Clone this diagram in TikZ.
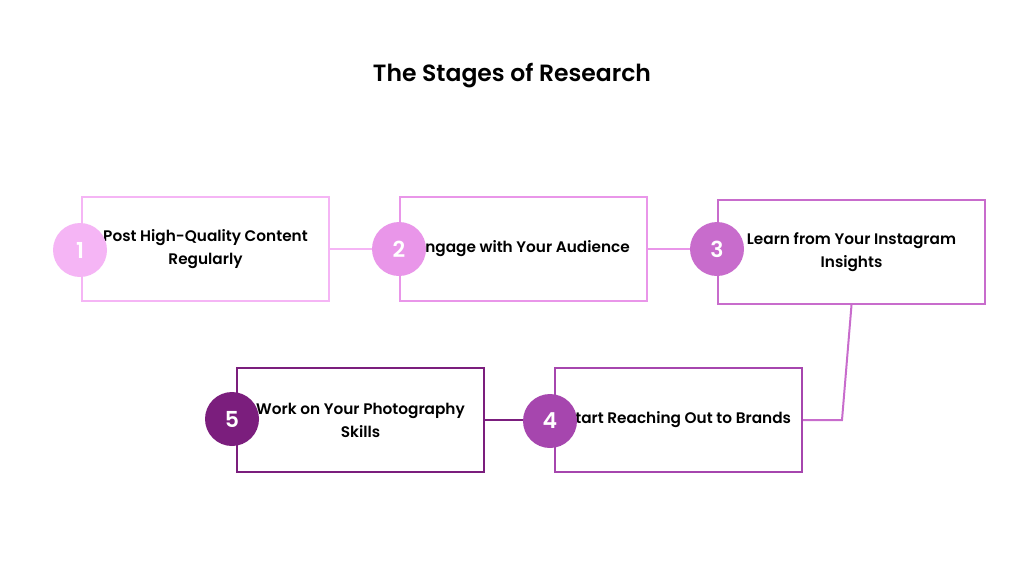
\documentclass[tikz,border=0pt]{standalone}
\usepackage{fontspec}
\setmainfont{Poppins}[BoldFont={Poppins SemiBold}]
\usepackage{xcolor}

\definecolor{stageone}{HTML}{F5B5F5}
\definecolor{stagetwo}{HTML}{E996E9}
\definecolor{stagethree}{HTML}{C86CCC}
\definecolor{stagefour}{HTML}{A646AE}
\definecolor{stagefive}{HTML}{7B1E7D}

\tikzset{
  stagebox/.style={draw=#1, line width=2pt, fill=white, minimum width=247pt,
    minimum height=104pt, inner sep=0pt, align=center,
    font=\fontsize{15.3}{23}\selectfont\bfseries},
  stagenum/.style={circle, fill=#1, minimum size=54pt, inner sep=0pt,
    text=white, font=\fontsize{22}{22}\selectfont\bfseries},
  link/.style={draw=#1, line width=2pt}
}

\begin{document}
\begin{tikzpicture}[x=1pt, y=-1pt]
    \useasboundingbox (0,0) rectangle (1024,576);

    % Title
    \node (title) at (512,75.5) {\fontsize{23.5}{28}\selectfont\bfseries The Stages of Research};

    % Stage boxes
    \node[stagebox=stageone] (box1) at (205.5,249) {Post High-Quality Content\\Regularly};
    \node[stagebox=stagetwo] (box2) at (523.5,249) {Engage with Your Audience};
    \node[stagebox=stagethree, minimum width=267pt] (box3) at (851.5,252) {Learn from Your Instagram\\Insights};
    \node[stagebox=stagefour] (box4) at (678.5,420) {Start Reaching Out to Brands};
    \node[stagebox=stagefive] (box5) at (360.5,420) {Work on Your Photography\\Skills};

    % Number circles
    \node[stagenum=stageone] (num1) at (80,250) {1};
    \node[stagenum=stagetwo] (num2) at (399,249) {2};
    \node[stagenum=stagethree] (num3) at (717,249) {3};
    \node[stagenum=stagefour] (num4) at (550,421) {4};
    \node[stagenum=stagefive] (num5) at (232,419) {5};

    % Connectors
    \coordinate (bend) at (842,420);
    \draw[link=stageone] (box1.east) -- (num2.west);
    \draw[link=stagetwo] (box2.east) -- (num3.west);
    \draw[link=stagethree] (box3.south) -- (bend) -- (box4.east);
    \draw[link=stagefive] (box5.east) -- (num4.west |- box5.east);
\end{tikzpicture}
\end{document}
